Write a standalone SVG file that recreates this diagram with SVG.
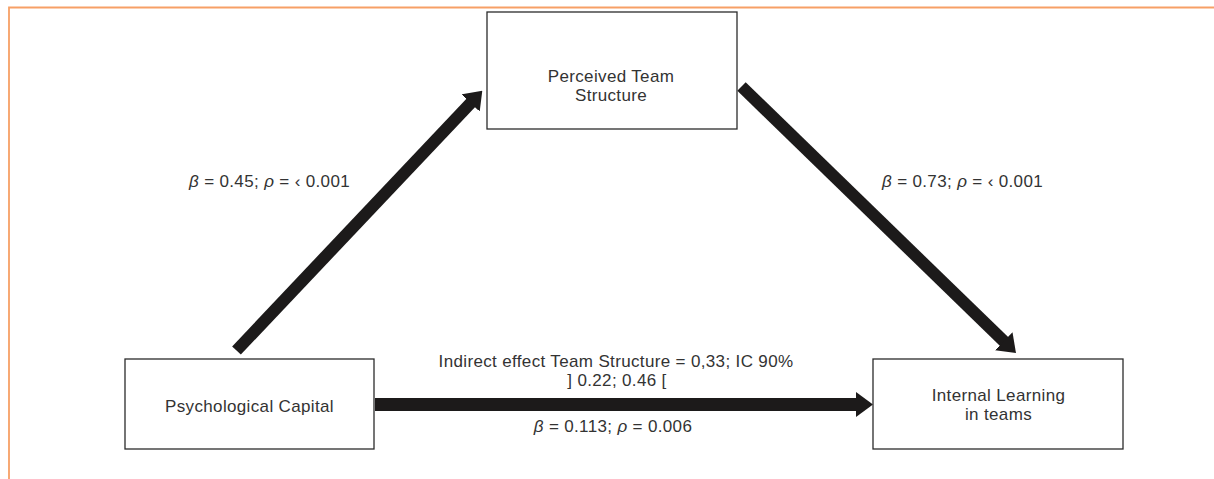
<svg xmlns="http://www.w3.org/2000/svg" width="1214" height="479" viewBox="0 0 1214 479">
<style>
.frame{stroke:#f7a066;stroke-width:1.8;fill:none}
.box{fill:#fff;stroke:#2b2b2b;stroke-width:1.3}
.t{font-family:"Liberation Sans",Arial,sans-serif;font-size:17px;letter-spacing:0.35px;fill:#333;text-anchor:middle}
.l{font-family:"Liberation Sans",Arial,sans-serif;font-size:17px;letter-spacing:0.35px;fill:#333}
.i{font-style:italic}
.arrow{stroke:#1c1a1a;fill:none;marker-end:url(#head)}
</style>
<defs>
<marker id="head" viewBox="0 0 17 25" markerWidth="17" markerHeight="25" refX="1" refY="12.5" orient="auto" markerUnits="userSpaceOnUse">
<path d="M0,0 L17,12.5 L0,25 z" fill="#1c1a1a"/>
</marker>
</defs>
<rect width="1214" height="479" fill="#fff"/>
<path class="frame" d="M9,479 V7.5 H1214"/>
<g id="connectors">
<line class="arrow" x1="236.5" y1="350.5" x2="471.3" y2="102.3" stroke-width="12"/>
<line class="arrow" x1="741.5" y1="86.5" x2="1004.5" y2="341.9" stroke-width="12"/>
<line class="arrow" x1="375" y1="404.5" x2="857" y2="404.5" stroke-width="13"/>
</g>
<g id="node-team-structure">
<rect class="box" x="487" y="12" width="250" height="117"/>
<text class="t" x="611" y="82">Perceived Team</text>
<text class="t" x="611" y="101">Structure</text>
</g>
<g id="node-psych-capital">
<rect class="box" x="125" y="359" width="249" height="90"/>
<text class="t" x="249.5" y="412">Psychological Capital</text>
</g>
<g id="node-internal-learning">
<rect class="box" x="873" y="359" width="250" height="90"/>
<text class="t" x="998.5" y="401">Internal Learning</text>
<text class="t" x="998.5" y="420">in teams</text>
</g>
<g id="labels">
<text class="l" x="189" y="187"><tspan class="i">β</tspan> = 0.45; <tspan class="i">ρ</tspan> = ‹ 0.001</text>
<text class="l" x="882" y="187"><tspan class="i">β</tspan> = 0.73; <tspan class="i">ρ</tspan> = ‹ 0.001</text>
<text class="t" x="616" y="367">Indirect effect Team Structure = 0,33; IC 90%</text>
<text class="t" x="617" y="386">] 0.22; 0.46 [</text>
<text class="t" x="613" y="432"><tspan class="i">β</tspan> = 0.113; <tspan class="i">ρ</tspan> = 0.006</text>
</g>
</svg>
